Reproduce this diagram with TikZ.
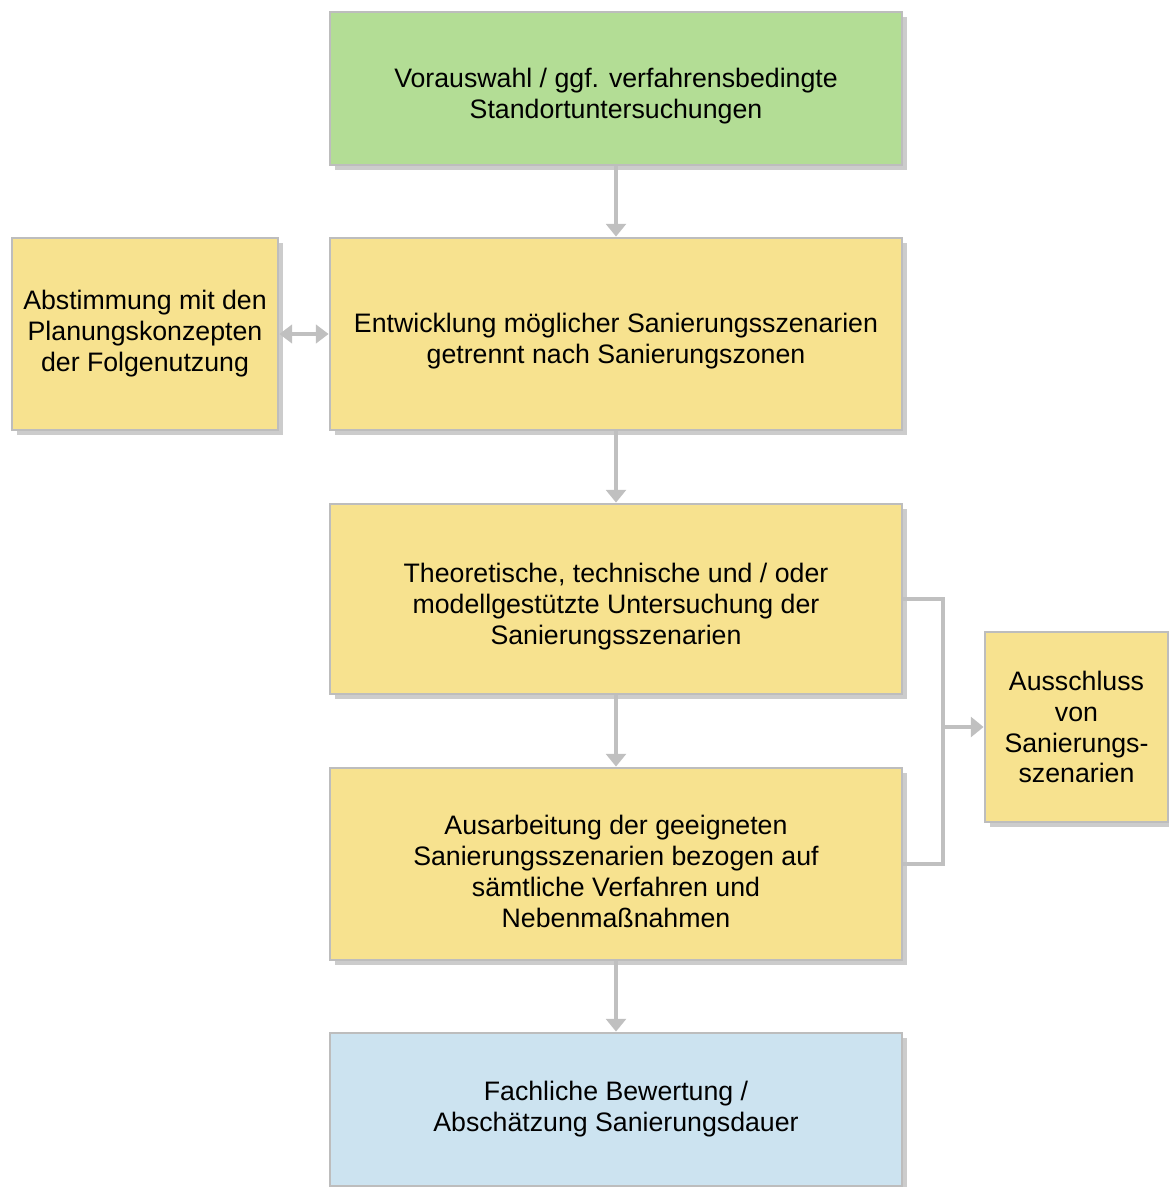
\documentclass[tikz,border=0pt]{standalone}
\usepackage{fontspec}
\setmainfont{Liberation Sans}
\usetikzlibrary{arrows.meta,shadows}
\definecolor{greenbox}{HTML}{B3DD95}
\definecolor{yellowbox}{HTML}{F7E28F}
\definecolor{bluebox}{HTML}{CCE3F0}
\definecolor{rimgray}{HTML}{BDBDBD}
\definecolor{linkgray}{HTML}{C0C0C0}
\newcommand{\topstrut}{\rule{0pt}{24pt}}
\begin{document}
\begin{tikzpicture}%
	[box/.style={draw=rimgray, line width=2pt, fill=yellowbox, align=center,
		font=\fontsize{19}{22}\selectfont, inner sep=0pt,
		minimum width=14.3cm, minimum height=4.8cm,
		drop shadow={shadow xshift=1.2mm, shadow yshift=-1.2mm, opacity=0.4}},
	startbox/.style={box, fill=greenbox, minimum height=3.825cm},
	endbox/.style={box, fill=bluebox, minimum height=3.825cm},
	sidebox/.style={box, minimum width=6.65cm},
	outbox/.style={box, minimum width=4.575cm, minimum height=4.75cm},
	link/.style={draw=linkgray, line width=2.2pt},
	arrow/.style={link, -{Triangle[width=14pt, length=9pt]}},
	twoarrow/.style={link, {Triangle[width=13pt, length=9pt]}-{Triangle[width=13pt, length=9pt]}}]
%
\useasboundingbox (0,0) rectangle (29.2,-29.675);
%%
%% Boxes
%%
\node[startbox] (vorauswahl) at (15.4,-2.2125) {\topstrut Vorauswahl / ggf. verfahrensbedingte\\Standortuntersuchungen};
\node[box] (entwicklung) at (15.4,-8.35) {\topstrut Entwicklung möglicher Sanierungsszenarien\\getrennt nach Sanierungszonen};
\node[sidebox] (abstimmung) at (3.625,-8.35) {Abstimmung mit den\\Planungskonzepten\\der Folgenutzung};
\node[box, minimum height=4.75cm] (untersuchung) at (15.4,-14.975) {\topstrut Theoretische, technische und / oder\\modellgestützte Untersuchung der\\Sanierungsszenarien};
\node[box] (ausarbeitung) at (15.4,-21.6) {\topstrut Ausarbeitung der geeigneten\\Sanierungsszenarien bezogen auf\\sämtliche Verfahren und\\Nebenmaßnahmen};
\node[endbox] (bewertung) at (15.4,-27.7375) {Fachliche Bewertung /\\Abschätzung Sanierungsdauer};
\node[outbox] (ausschluss) at (26.9125,-18.175) {Ausschluss\\von\\Sanierungs-\\szenarien};
%%
%% Connectors
%%
\draw[arrow] (vorauswahl) -- (entwicklung);
\draw[arrow] (entwicklung) -- (untersuchung);
\draw[arrow] (untersuchung) -- (ausarbeitung);
\draw[arrow] (ausarbeitung) -- (bewertung);
\draw[twoarrow] (abstimmung) -- (entwicklung);
%
\coordinate (split) at (23.575,-18.175);
\draw[link] (untersuchung.east) -| (split) |- (ausarbeitung.east);
\draw[arrow] (split) -- (ausschluss.west);
\end{tikzpicture}
\end{document}
